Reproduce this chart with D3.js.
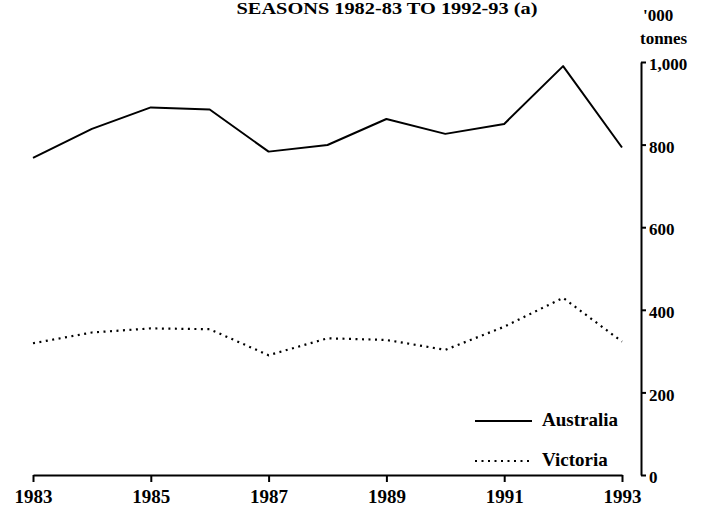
<!DOCTYPE html>
<html>
<head>
<meta charset="utf-8">
<script src="https://cdn.jsdelivr.net/npm/d3@7"></script>
<style>
  html, body { margin: 0; padding: 0; background: #fff; }
  svg { display: block; }
  text { font-family: "Liberation Serif", "Times New Roman", serif; fill: #000; }
</style>
</head>
<body>
<svg id="chart" width="718" height="508"></svg>
<script>
// ---- data ----
const years = [1983, 1984, 1985, 1986, 1987, 1988, 1989, 1990, 1991, 1992, 1993];
const australia = [768, 838, 890, 885, 783, 799, 862, 826, 850, 990, 793];
const victoria = [319, 345, 355, 353, 290, 331, 327, 303, 359, 429, 323];
const xTickYears = [1983, 1985, 1987, 1989, 1991, 1993];
const yTicks = [0, 200, 400, 600, 800, 1000];
const titleText = "SEASONS 1982-83 TO 1992-93 (a)";
const unitLines = ["'000", "tonnes"];
const seriesNames = ["Australia", "Victoria"];

// ---- drawing ----
const svg = d3.select("#chart");
const x = d3.scaleLinear().domain([1983, 1993]).range([33, 622]);
const y = d3.scaleLinear().domain([0, 1000]).range([475, 62]);

// title
svg.append("text")
  .attr("x", 387).attr("y", 14)
  .attr("text-anchor", "middle")
  .attr("font-size", 17).attr("font-weight", "bold")
  .attr("textLength", 301).attr("lengthAdjust", "spacingAndGlyphs")
  .text(titleText);

// unit label
svg.append("text").attr("x", 643).attr("y", 21)
  .attr("font-size", 17).attr("font-weight", "bold").text(unitLines[0]);
svg.append("text").attr("x", 640).attr("y", 44)
  .attr("font-size", 17).attr("font-weight", "bold").text(unitLines[1]);

// x axis
const xAxis = svg.append("g")
  .attr("transform", `translate(0,${y(0)})`)
  .call(d3.axisBottom(x).tickValues(xTickYears).tickFormat(d3.format("d"))
    .tickSize(7).tickSizeOuter(0).tickPadding(8));
xAxis.select(".domain").attr("stroke", "#000").attr("stroke-width", 2);
xAxis.selectAll(".tick line").attr("stroke", "#000").attr("stroke-width", 2);
xAxis.selectAll(".tick text")
  .attr("font-family", "Liberation Serif, serif")
  .attr("font-size", 19).attr("font-weight", "bold").attr("fill", "#000");

// y axis (right side)
const yAxis = svg.append("g")
  .attr("transform", `translate(641,0)`)
  .call(d3.axisRight(y).tickValues(yTicks).tickFormat(d3.format(","))
    .tickSize(5).tickSizeOuter(0).tickPadding(3));
yAxis.select(".domain").attr("stroke", "#000").attr("stroke-width", 2);
yAxis.selectAll(".tick line").attr("stroke", "#000").attr("stroke-width", 2);
yAxis.selectAll(".tick text")
  .attr("font-family", "Liberation Serif, serif")
  .attr("font-size", 17).attr("font-weight", "bold").attr("fill", "#000")
  .attr("dy", "0.45em");

// lines
const line = d3.line().x((d, i) => x(years[i])).y(d => y(d));
svg.append("path").datum(australia)
  .attr("d", line).attr("fill", "none")
  .attr("stroke", "#000").attr("stroke-width", 2).attr("stroke-linejoin", "round");
svg.append("path").datum(victoria)
  .attr("d", line).attr("fill", "none")
  .attr("stroke", "#000").attr("stroke-width", 2.2).attr("stroke-dasharray", "2,4.5");

// legend
const legend = svg.append("g");
const legY = [421, 461];
const dashes = [null, "2,4.5"];
seriesNames.forEach((name, i) => {
  legend.append("line")
    .attr("x1", 475).attr("x2", 532).attr("y1", legY[i]).attr("y2", legY[i])
    .attr("stroke", "#000").attr("stroke-width", 2)
    .attr("stroke-dasharray", dashes[i]);
  legend.append("text")
    .attr("x", 542).attr("y", legY[i] + 5)
    .attr("font-size", 19).attr("font-weight", "bold")
    .text(name);
});
</script>
</body>
</html>
